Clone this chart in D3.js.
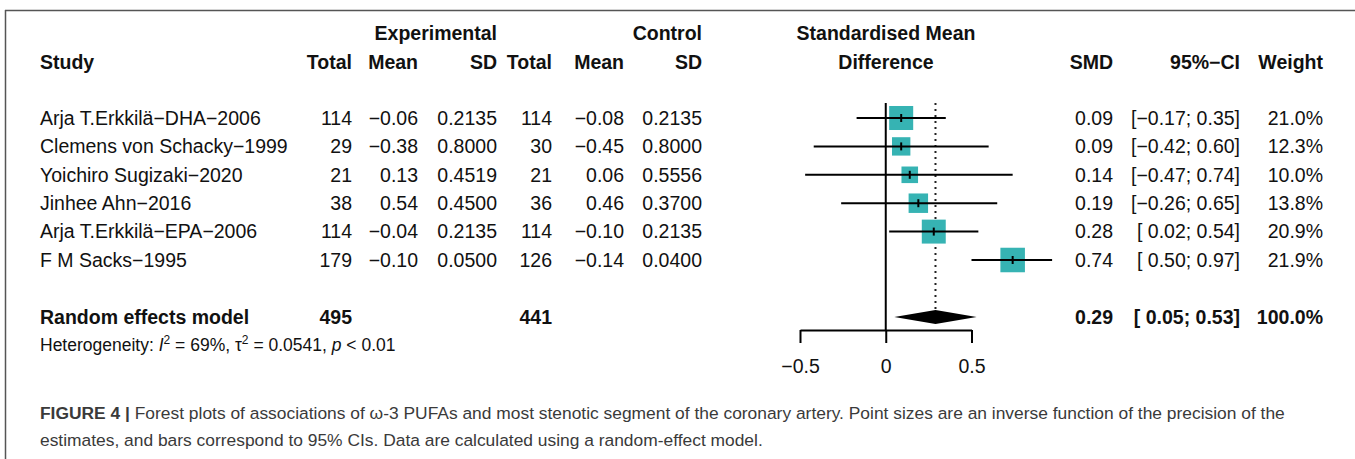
<!DOCTYPE html>
<html>
<head>
<meta charset="utf-8">
<script src="https://cdn.jsdelivr.net/npm/d3@7"></script>
<style>
  body { margin: 0; background: #fff; }
  text { font-family: "Liberation Sans", Arial, sans-serif; white-space: pre; }
</style>
</head>
<body>
<div id="chart"></div>
<script>
// study rows
var studies = ['Arja T.Erkkilä−DHA−2006', 'Clemens von Schacky−1999', 'Yoichiro Sugizaki−2020',
               'Jinhee Ahn−2016', 'Arja T.Erkkilä−EPA−2006', 'F M Sacks−1995'];
var expTotal = [114, 29, 21, 38, 114, 179];
var expMean = [-0.06, -0.38, 0.13, 0.54, -0.04, -0.10];
var expSD = [0.2135, 0.8000, 0.4519, 0.4500, 0.2135, 0.0500];
var ctlTotal = [114, 30, 21, 36, 114, 126];
var ctlMean = [-0.08, -0.45, 0.06, 0.46, -0.10, -0.14];
var ctlSD = [0.2135, 0.8000, 0.5556, 0.3700, 0.2135, 0.0400];
var smd = [0.09, 0.09, 0.14, 0.19, 0.28, 0.74];
var lower = [-0.17, -0.42, -0.47, -0.26, 0.02, 0.50];
var upper = [0.35, 0.60, 0.74, 0.65, 0.54, 0.97];
var weight = [21.0, 12.3, 10.0, 13.8, 20.9, 21.9];

// pooled (random effects)
var pooledTotals = [495, 441];
var pooled = [0.29, 0.05, 0.53]; // est, lower, upper
var pooledWeight = 100.0;
var axisTicks = [-0.5, 0, 0.5];

var W = 1355, H = 459;
var fs = 19.5;

var svg = d3.select('#chart').append('svg')
  .attr('width', W)
  .attr('height', H);

// frame
svg.append('line').attr('x1', 5).attr('x2', W).attr('y1', 10.5).attr('y2', 10.5)
  .attr('stroke', '#555').attr('stroke-width', 1.5);
svg.append('line').attr('x1', 5.5).attr('x2', 5.5).attr('y1', 10).attr('y2', H)
  .attr('stroke', '#555').attr('stroke-width', 1.5);

var x = d3.scaleLinear().domain([-0.5, 0.5]).range([800, 971.5]);
var y = d3.scaleLinear().domain([0, 5]).range([118, 260]);
var yPool = 317;

var f2 = d3.format('.2f'), f4 = d3.format('.4f'), f1 = d3.format('.1f');

function ci(lo, hi) {
  return '[' + (lo < 0 ? f2(lo) : ' ' + f2(lo)) + '; ' + f2(hi) + ']';
}

// column right edges
var cols = {
  expTotal: 352, expMean: 418, expSD: 497,
  ctlTotal: 552, ctlMean: 624, ctlSD: 702,
  smd: 1113, ci: 1240, weight: 1323
};

function txt(xp, yp, s, opt) {
  opt = opt || {};
  return svg.append('text')
    .attr('x', xp).attr('y', yp)
    .attr('dy', '0.35em')
    .attr('text-anchor', opt.anchor || 'end')
    .attr('font-size', opt.size || fs)
    .attr('font-weight', opt.bold ? 'bold' : null)
    .attr('fill', '#111')
    .text(s);
}

// headers
var h1 = 33, h2 = 62;
txt(cols.expSD, h1, 'Experimental', {bold: true});
txt(cols.ctlSD, h1, 'Control', {bold: true});
txt(886, h1, 'Standardised Mean', {bold: true, anchor: 'middle'});
txt(40, h2, 'Study', {bold: true, anchor: 'start'});
txt(cols.expTotal, h2, 'Total', {bold: true});
txt(cols.expMean, h2, 'Mean', {bold: true});
txt(cols.expSD, h2, 'SD', {bold: true});
txt(cols.ctlTotal, h2, 'Total', {bold: true});
txt(cols.ctlMean, h2, 'Mean', {bold: true});
txt(cols.ctlSD, h2, 'SD', {bold: true});
txt(886, h2, 'Difference', {bold: true, anchor: 'middle'});
txt(cols.smd, h2, 'SMD', {bold: true});
txt(cols.ci, h2, '95%−CI', {bold: true});
txt(cols.weight, h2, 'Weight', {bold: true});

// study rows text
studies.forEach(function(s, i) {
  var yy = y(i);
  txt(40, yy, s, {anchor: 'start'});
  txt(cols.expTotal, yy, expTotal[i]);
  txt(cols.expMean, yy, f2(expMean[i]));
  txt(cols.expSD, yy, f4(expSD[i]));
  txt(cols.ctlTotal, yy, ctlTotal[i]);
  txt(cols.ctlMean, yy, f2(ctlMean[i]));
  txt(cols.ctlSD, yy, f4(ctlSD[i]));
  txt(cols.smd, yy, f2(smd[i]));
  txt(cols.ci, yy, ci(lower[i], upper[i]));
  txt(cols.weight, yy, f1(weight[i]) + '%');
});

// pooled row text
txt(40, yPool, 'Random effects model', {anchor: 'start', bold: true});
txt(cols.expTotal, yPool, pooledTotals[0], {bold: true});
txt(cols.ctlTotal, yPool, pooledTotals[1], {bold: true});
txt(cols.smd, yPool, f2(pooled[0]), {bold: true});
txt(cols.ci, yPool, ci(pooled[1], pooled[2]), {bold: true});
txt(cols.weight, yPool, f1(pooledWeight) + '%', {bold: true});

// heterogeneity
var het = svg.append('text').attr('x', 40).attr('y', 351)
  .attr('font-size', 17.5).attr('fill', '#111');
het.append('tspan').text('Heterogeneity: ');
het.append('tspan').attr('font-style', 'italic').text('I');
het.append('tspan').attr('font-size', 12).attr('dy', -7).text('2');
het.append('tspan').attr('dy', 7).text(' = 69%, τ');
het.append('tspan').attr('font-size', 12).attr('dy', -7).text('2');
het.append('tspan').attr('dy', 7).text(' = 0.0541, ');
het.append('tspan').attr('font-style', 'italic').text('p');
het.append('tspan').text(' < 0.01');

// plot
var plot = svg.append('g');
var plotTop = 103, axisY = 330;

// zero line
plot.append('line')
  .attr('x1', x(0)).attr('x2', x(0))
  .attr('y1', plotTop).attr('y2', axisY)
  .attr('stroke', '#000').attr('stroke-width', 2);

// pooled estimate dotted line
plot.append('line')
  .attr('x1', x(pooled[0])).attr('x2', x(pooled[0]))
  .attr('y1', plotTop).attr('y2', yPool - 7)
  .attr('stroke', '#222').attr('stroke-width', 2)
  .attr('stroke-dasharray', '2,4');

var rows = plot.selectAll('g.row')
  .data(d3.range(studies.length))
  .enter().append('g').attr('class', 'row');

// squares, side ~ sqrt(weight)
rows.append('rect')
  .attr('x', function(i) { return x(smd[i]) - 5.24 * Math.sqrt(weight[i]) / 2; })
  .attr('y', function(i) { return y(i) - 5.24 * Math.sqrt(weight[i]) / 2; })
  .attr('width', function(i) { return 5.24 * Math.sqrt(weight[i]); })
  .attr('height', function(i) { return 5.24 * Math.sqrt(weight[i]); })
  .attr('fill', '#36b3b3');

rows.append('line')
  .attr('x1', function(i) { return x(lower[i]); })
  .attr('x2', function(i) { return x(upper[i]); })
  .attr('y1', function(i) { return y(i); })
  .attr('y2', function(i) { return y(i); })
  .attr('stroke', '#000').attr('stroke-width', 2);

rows.append('line')
  .attr('x1', function(i) { return x(smd[i]); })
  .attr('x2', function(i) { return x(smd[i]); })
  .attr('y1', function(i) { return y(i) - 4; })
  .attr('y2', function(i) { return y(i) + 4; })
  .attr('stroke', '#000').attr('stroke-width', 2);

// diamond
plot.append('path')
  .attr('d', 'M' + x(pooled[1]) + ',' + yPool +
             'L' + x(pooled[0]) + ',' + (yPool - 7) +
             'L' + x(pooled[2]) + ',' + yPool +
             'L' + x(pooled[0]) + ',' + (yPool + 7) + 'Z')
  .attr('fill', '#000');

// axis
var axis = plot.append('g')
  .attr('transform', 'translate(0,' + axisY + ')')
  .call(d3.axisBottom(x).tickValues(axisTicks).tickSize(13).tickSizeOuter(0).tickPadding(16)
    .tickFormat(function(d) { return d === 0 ? '0' : d3.format('.1f')(d); }));
axis.select('.domain').attr('stroke', '#000').attr('stroke-width', 2);
axis.selectAll('.tick line').attr('stroke', '#000').attr('stroke-width', 2);
axis.selectAll('.tick text')
  .attr('font-size', fs)
  .attr('font-family', '"Liberation Sans", Arial, sans-serif')
  .attr('fill', '#111');

// caption
var cap = svg.append('text').attr('x', 40).attr('y', 419)
  .attr('font-size', 17.4).attr('fill', '#3a3a3a');
cap.append('tspan').attr('font-weight', 'bold').text('FIGURE 4 | ');
cap.append('tspan').text('Forest plots of associations of ω-3 PUFAs and most stenotic segment of the coronary artery. Point sizes are an inverse function of the precision of the');
svg.append('text').attr('x', 40).attr('y', 446)
  .attr('font-size', 17.4).attr('fill', '#3a3a3a')
  .text('estimates, and bars correspond to 95% CIs. Data are calculated using a random-effect model.');
</script>
</body>
</html>
